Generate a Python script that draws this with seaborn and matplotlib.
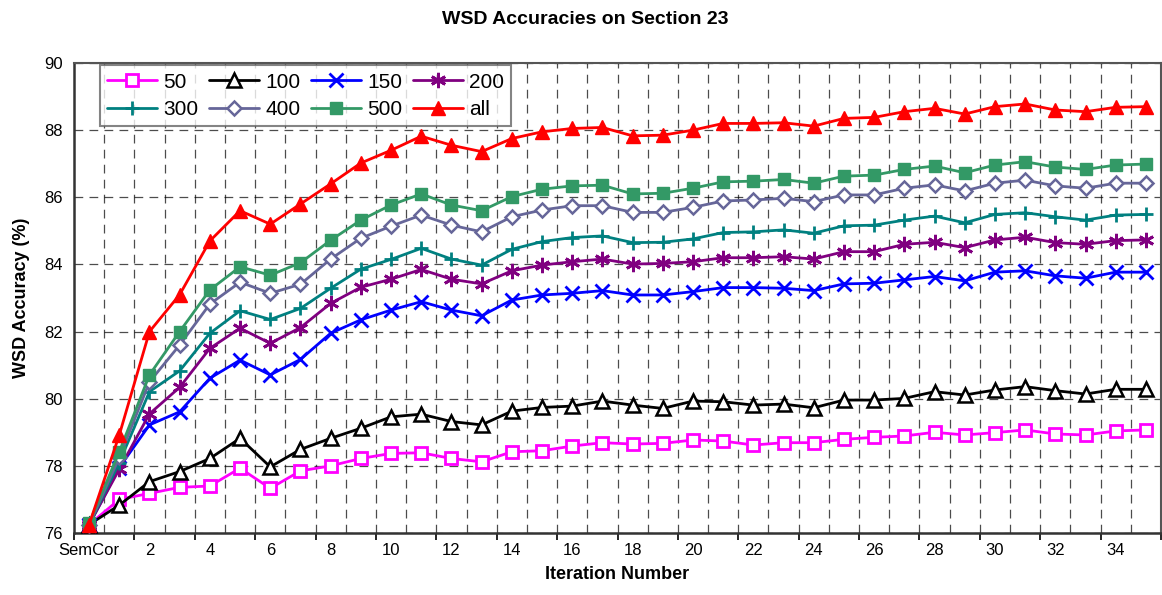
import pandas as pd
import seaborn as sns
import matplotlib.pyplot as plt

# data (iteration 0 = SemCor)
iteration = list(range(36))
label_pos = list(range(0, 36, 2))
tick_labels = ['SemCor', '2', '4', '6', '8', '10', '12', '14', '16', '18', '20',
               '22', '24', '26', '28', '30', '32', '34']

acc_50 = [76.25, 77.0, 77.18, 77.36, 77.4, 77.93, 77.33, 77.85, 78.0, 78.22, 78.37, 78.39,
          78.22, 78.12, 78.42, 78.45, 78.59, 78.69, 78.65, 78.67, 78.77, 78.74, 78.62, 78.69,
          78.69, 78.79, 78.85, 78.89, 79.0, 78.92, 78.99, 79.07, 78.95, 78.92, 79.04, 79.07]
acc_100 = [76.25, 76.83, 77.53, 77.83, 78.22, 78.82, 77.97, 78.49, 78.82, 79.12, 79.46, 79.54,
           79.32, 79.22, 79.63, 79.74, 79.78, 79.93, 79.81, 79.71, 79.93, 79.91, 79.81, 79.84,
           79.73, 79.96, 79.96, 80.01, 80.21, 80.11, 80.26, 80.36, 80.24, 80.14, 80.28, 80.28]
acc_150 = [76.25, 77.95, 79.22, 79.61, 80.61, 81.15, 80.71, 81.17, 81.95, 82.35, 82.64, 82.89,
           82.64, 82.47, 82.94, 83.09, 83.14, 83.22, 83.09, 83.09, 83.19, 83.31, 83.31, 83.29,
           83.22, 83.42, 83.44, 83.54, 83.64, 83.51, 83.77, 83.81, 83.66, 83.59, 83.77, 83.77]
acc_200 = [76.25, 77.9, 79.55, 80.34, 81.5, 82.1, 81.65, 82.12, 82.84, 83.32, 83.56, 83.85,
           83.56, 83.42, 83.81, 83.98, 84.08, 84.16, 84.01, 84.03, 84.08, 84.2, 84.2, 84.23,
           84.16, 84.38, 84.38, 84.6, 84.66, 84.5, 84.73, 84.81, 84.65, 84.6, 84.71, 84.73]
acc_300 = [76.25, 78.1, 80.21, 80.83, 81.95, 82.62, 82.36, 82.69, 83.29, 83.86, 84.15, 84.48,
           84.16, 83.98, 84.45, 84.68, 84.8, 84.85, 84.65, 84.66, 84.76, 84.95, 84.97, 85.03,
           84.93, 85.15, 85.17, 85.32, 85.44, 85.24, 85.49, 85.54, 85.42, 85.32, 85.47, 85.49]
acc_400 = [76.25, 78.25, 80.5, 81.6, 82.82, 83.47, 83.14, 83.41, 84.16, 84.78, 85.14, 85.47,
           85.17, 84.97, 85.42, 85.62, 85.75, 85.75, 85.55, 85.55, 85.7, 85.89, 85.92, 85.97,
           85.87, 86.07, 86.07, 86.27, 86.37, 86.19, 86.42, 86.51, 86.34, 86.27, 86.42, 86.42]
acc_500 = [76.29, 78.42, 80.71, 82.0, 83.24, 83.93, 83.68, 84.05, 84.72, 85.32, 85.77, 86.1,
           85.77, 85.6, 86.02, 86.24, 86.34, 86.36, 86.1, 86.12, 86.27, 86.46, 86.48, 86.53,
           86.42, 86.63, 86.66, 86.83, 86.93, 86.73, 86.96, 87.06, 86.9, 86.83, 86.96, 86.99]
acc_all = [76.25, 78.92, 82.0, 83.1, 84.7, 85.6, 85.2, 85.8, 86.4, 87.02, 87.4, 87.82,
           87.55, 87.36, 87.75, 87.95, 88.05, 88.08, 87.83, 87.85, 88.0, 88.2, 88.2, 88.22,
           88.12, 88.35, 88.38, 88.55, 88.65, 88.48, 88.7, 88.78, 88.6, 88.55, 88.68, 88.7]

series_names = ['50', '100', '150', '200', '300', '400', '500', 'all']
series_values = [acc_50, acc_100, acc_150, acc_200, acc_300, acc_400, acc_500, acc_all]

# style per series
styles = {
    '50':  dict(color='#FF00FF', marker='s', markersize=9, markerfacecolor='white', markeredgewidth=2),
    '100': dict(color='black', marker='^', markersize=10, markerfacecolor='white', markeredgewidth=1.8),
    '150': dict(color='#0000FF', marker='x', markersize=10, markerfacecolor='none', markeredgewidth=2),
    '200': dict(color='#800080', marker=(6, 2, 0), markersize=11, markerfacecolor='none', markeredgewidth=2),
    '300': dict(color='#008080', marker='+', markersize=10, markerfacecolor='none', markeredgewidth=2),
    '400': dict(color='#666699', marker='D', markersize=7, markerfacecolor='white', markeredgewidth=1.8),
    '500': dict(color='#339966', marker='s', markersize=9, markerfacecolor='#339966', markeredgewidth=1),
    'all': dict(color='#FF0000', marker='^', markersize=10, markerfacecolor='#FF0000', markeredgewidth=1),
}

sns.set_style('white')
plt.rcParams['font.family'] = ['Liberation Sans', 'DejaVu Sans']
plt.rcParams['text.color'] = 'black'
plt.rcParams['axes.labelcolor'] = 'black'
plt.rcParams['xtick.color'] = 'black'
plt.rcParams['ytick.color'] = 'black'

fig = plt.figure(figsize=(11.62, 5.95), dpi=100)
ax = fig.add_axes([74/1162, 1-533/595, 1087/1162, 470/595])

handles = {}
for name, vals in zip(series_names, series_values):
    st = styles[name]
    sns.lineplot(x=iteration, y=vals, ax=ax, label=name, color=st['color'],
                 marker=st['marker'], markersize=st['markersize'],
                 markerfacecolor=st['markerfacecolor'], markeredgecolor=st['color'],
                 markeredgewidth=st['markeredgewidth'], linewidth=2, zorder=3,
                 clip_on=False)
    handles[name] = ax.get_lines()[-1]

# Excel-like category axis: labels at category centres, grid at boundaries
ax.set_xlim(-0.5, 35.5)
ax.set_ylim(76, 90)
ax.set_yticks(range(76, 91, 2))
ax.set_xticks(label_pos)
ax.set_xticklabels(tick_labels)
ax.set_xticks([i + 0.5 for i in range(35)], minor=True)
ax.tick_params(axis='x', which='major', length=0, labelsize=12, pad=7)
ax.tick_params(axis='x', which='minor', length=0)
ax.tick_params(axis='y', direction='out', length=5, width=1.2, labelsize=12, pad=3)
ax.grid(False, which='major', axis='x')
ax.grid(True, which='minor', axis='x', color='black', linestyle=(0, (7, 5)), linewidth=0.9, alpha=0.7)
ax.grid(True, which='major', axis='y', color='black', linestyle=(0, (7, 5)), linewidth=0.9, alpha=0.7)
ax.set_axisbelow(True)

# tick marks every second category boundary
sec = ax.secondary_xaxis('bottom')
sec.set_xticks([i - 0.5 for i in range(0, 37, 2)])
sec.set_xticklabels([])
sec.tick_params(direction='out', length=5, width=1.2)
sec.spines['bottom'].set_visible(False)

for side in ['left', 'bottom']:
    ax.spines[side].set_color('#333333')
    ax.spines[side].set_linewidth(1.8)
for side in ['top', 'right']:
    ax.spines[side].set_color('#555555')
    ax.spines[side].set_linewidth(1.5)

ax.set_xlabel('Iteration Number', fontsize=13, fontweight='bold', labelpad=6)
ax.set_ylabel('WSD Accuracy (%)', fontsize=13, fontweight='bold', labelpad=10)
fig.suptitle('WSD Accuracies on Section 23', fontsize=14, fontweight='bold', x=0.504, y=0.982)

# legend filled row by row like the original
order = ['50', '300', '100', '400', '150', '500', '200', 'all']
leg = ax.legend([handles[n] for n in order], order, ncol=4, loc='upper left',
                bbox_to_anchor=(0.024, 0.995), borderaxespad=0,
                fontsize=15, handlelength=2.4, handletextpad=0.3, columnspacing=0.5,
                labelspacing=0.4, borderpad=0.35, frameon=True, fancybox=False)
leg.get_frame().set_edgecolor('#666666')
leg.get_frame().set_linewidth(1.5)
leg.set_zorder(5)

plt.savefig('out.png', dpi=100)
